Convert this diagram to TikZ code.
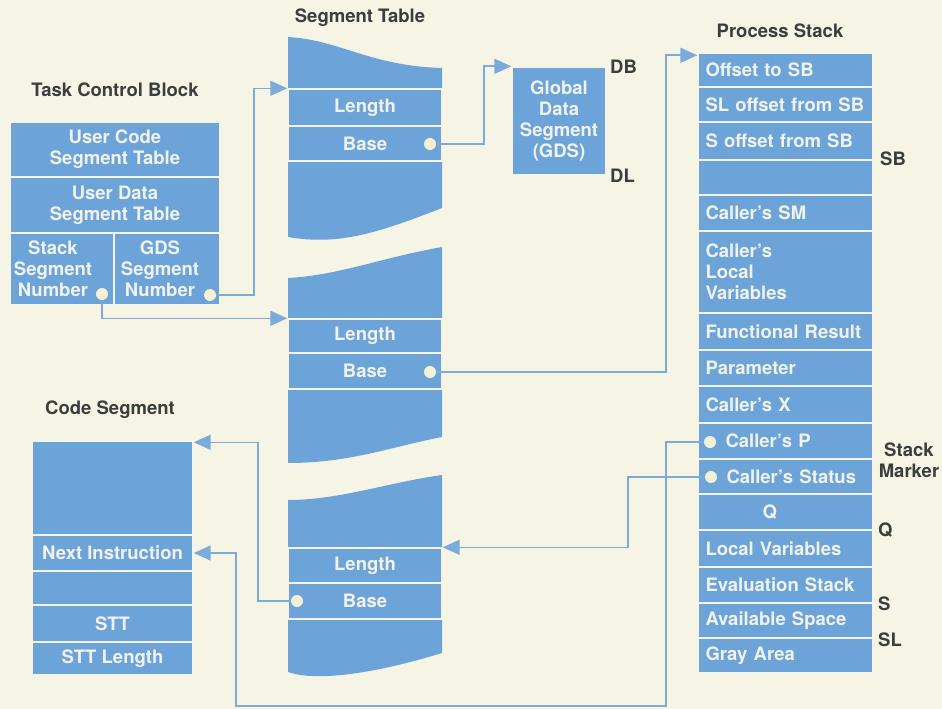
\documentclass[tikz,border=0pt]{standalone}
\usepackage{fontspec}
\setmainfont{TeX Gyre Heros}
\usetikzlibrary{arrows.meta}
\definecolor{paper}{RGB}{246,244,229}
\definecolor{segblue}{RGB}{108,164,218}
\definecolor{linkblue}{RGB}{122,171,218}
\definecolor{inktext}{RGB}{58,62,60}
\definecolor{celltext}{RGB}{241,242,236}
\definecolor{dotfill}{RGB}{243,240,212}
\newcommand{\cellFont}{\fontsize{18.5}{21}\selectfont\bfseries}
\tikzset{
  cell/.style={rectangle, fill=segblue, draw=paper, line width=1.4pt, inner sep=0pt, text=celltext, align=center, font=\cellFont},
  segrow/.style={cell, minimum width=154pt},
  stackrow/.style={cell, minimum width=175pt, text width=160pt, align=left},
  coderow/.style={cell, minimum width=161pt},
  celltxt/.style={text=celltext, align=center, font=\cellFont, inner sep=0pt},
  heading/.style={text=inktext, align=center, font=\cellFont, inner sep=0pt},
  pointer/.style={circle, fill=dotfill, minimum size=12pt, inner sep=0pt},
  link/.style={draw=linkblue, line width=1.6pt, -{Triangle[length=17pt,width=15pt]}}
}

\begin{document}
\begin{tikzpicture}[x=1pt,y=-1pt]
        \useasboundingbox (0,0) rectangle (942,709);
        \fill[paper] (0,0) rectangle (942,709);
        \node[heading] (tcbTitle) at (115,90) {Task Control Block};
        \node[heading] (segTitle) at (360,18) {Segment Table};
        \node[heading] (psTitle) at (780,31) {Process Stack};
        \node[heading] (codeTitle) at (110,410) {Code Segment};
        \node[cell, minimum width=210pt, minimum height=55pt] (tcbCode) at (115,149.5) {User Code\\Segment Table};
        \node[cell, minimum width=210pt, minimum height=56pt] (tcbData) at (115,205) {User Data\\Segment Table};
        \node[cell, minimum width=104pt, minimum height=72pt] (tcbStack) at (62,269) {};
        \node[cell, minimum width=106pt, minimum height=72pt] (tcbGDS) at (167,269) {};
        \node[celltxt] (stackTxt) at (53,269) {Stack\\Segment\\Number};
        \node[celltxt] (gdsTxt) at (160,269) {GDS\\Segment\\Number};
        \fill[segblue] (288,37) .. controls (340,40) and (370,66) .. (442,68) -- (442,208) .. controls (380,232) and (340,246) .. (288,237) -- cycle;
        \fill[segblue] (288,278) .. controls (340,275) and (380,258) .. (442,247) -- (442,437) .. controls (390,447) and (350,463) .. (288,463) -- cycle;
        \fill[segblue] (288,500) .. controls (340,500) and (390,482) .. (442,475) -- (442,653) .. controls (360,678) and (310,680) .. (288,672) -- cycle;
        \node[segrow, minimum height=37pt] (lenA) at (365,107.5) {Length};
        \node[segrow, minimum height=35pt] (baseA) at (365,143.5) {Base};
        \node[segrow, minimum height=34pt] (lenB) at (365,336) {Length};
        \node[segrow, minimum height=36pt] (baseB) at (365,371) {Base};
        \node[segrow, minimum height=35pt] (lenC) at (365,565.5) {Length};
        \node[segrow, minimum height=36pt] (baseC) at (365,601) {Base};
        \node[cell, minimum width=94pt, minimum height=108pt] (gds) at (559,121) {Global\\Data\\Segment\\(GDS)};
        \node[heading, anchor=west] (dbLbl) at (610,67) {DB};
        \node[heading, anchor=west] (dlLbl) at (610,176) {DL};
        \node[coderow, minimum height=94pt] (codeTop) at (112.5,488) {};
        \node[coderow, minimum height=36pt] (nextInstr) at (112.5,553) {Next Instruction};
        \node[coderow, minimum height=34pt] (codeBlank) at (112.5,588) {};
        \node[coderow, minimum height=37pt] (stt) at (112.5,623.5) {STT};
        \node[coderow, minimum height=33pt] (sttLen) at (112.5,658.5) {STT Length};
        \node[stackrow, minimum height=34pt] (psOffset) at (785.5,70) {Offset to SB};
        \node[stackrow, minimum height=35pt] (psSL) at (785.5,104.5) {SL offset from SB};
        \node[stackrow, minimum height=38pt] (psS) at (785.5,141) {S offset from SB};
        \node[stackrow, minimum height=35pt] (psBlank) at (785.5,177.5) {};
        \node[stackrow, minimum height=36pt] (psSM) at (785.5,213) {Caller's SM};
        \node[stackrow, minimum height=82pt] (psLocals) at (785.5,272) {Caller's\\Local\\Variables};
        \node[stackrow, minimum height=37pt] (psResult) at (785.5,331.5) {Functional Result};
        \node[stackrow, minimum height=36pt] (psParam) at (785.5,368) {Parameter};
        \node[stackrow, minimum height=37pt] (psX) at (785.5,404.5) {Caller's X};
        \node[stackrow, minimum height=36pt] (psP) at (785.5,441) {\hspace*{20pt}Caller's P};
        \node[stackrow, minimum height=35pt] (psStatus) at (785.5,476.5) {\hspace*{21pt}Caller's Status};
        \node[stackrow, minimum height=36pt] (psQ) at (785.5,512) {\hspace*{57pt}Q};
        \node[stackrow, minimum height=37pt] (psLocal) at (785.5,548.5) {Local Variables};
        \node[stackrow, minimum height=36pt] (psEval) at (785.5,585) {Evaluation Stack};
        \node[stackrow, minimum height=35pt] (psAvail) at (785.5,620.5) {Available Space};
        \node[stackrow, minimum height=35pt] (psGray) at (785.5,655.5) {Gray Area};
        \node[heading, anchor=west] (sbLbl) at (880,159) {SB};
        \node[heading] (markLbl) at (909,460) {Stack\\Marker};
        \node[heading, anchor=west] (qLbl) at (878,530) {Q};
        \node[heading, anchor=west] (sLbl) at (878,604) {S};
        \node[heading, anchor=west] (slLbl) at (878,640) {SL};
        \node[pointer] (dotStack) at (102,294) {};
        \node[pointer] (dotGDS) at (210,295) {};
        \node[pointer] (dotBaseA) at (430,144) {};
        \node[pointer] (dotBaseB) at (430,372) {};
        \node[pointer] (dotBaseC) at (297,601) {};
        \node[pointer] (dotP) at (710,442) {};
        \node[pointer] (dotStatus) at (711,477) {};
        \draw[link] (dotGDS.east) -- (254,295) |- (lenA.north west);
        \draw[link] (dotStack.south) |- (lenB.north west);
        \draw[link] (dotBaseA.east) -- (484,144) |- (gds.north west);
        \draw[link] (dotBaseB.east) -- (666,372) |- ([yshift=-3pt]psOffset.north west);
        \draw[link] (dotBaseC.west) -- (258,601) |- ([yshift=-2pt]codeTop.north east);
        \draw[link] (dotP.west) -| (666,706) -| (236,553) -- (nextInstr.east);
        \draw[link] (dotStatus.west) -- (628,477) |- (lenC.north east);
      \end{tikzpicture}
\end{document}
